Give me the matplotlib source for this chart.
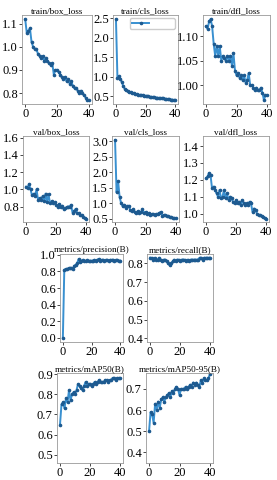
import numpy as np
import matplotlib.pyplot as plt
from matplotlib.ticker import MultipleLocator, FormatStrFormatter

plt.rcParams['font.family'] = ['Liberation Serif', 'DejaVu Serif']

# training curves, one value per epoch (0..40)
train_box_loss = [1.12, 1.06, 1.07, 1.08, 1.02, 1.00, 0.99, 0.99, 0.97, 0.96, 0.95, 0.96, 0.94, 0.95, 0.94,
                  0.93, 0.92, 0.93, 0.88, 0.90, 0.90, 0.89, 0.88, 0.87, 0.86, 0.87, 0.85, 0.86, 0.84, 0.85,
                  0.83, 0.82, 0.82, 0.81, 0.80, 0.81, 0.80, 0.79, 0.78, 0.77, 0.77]
train_cls_loss = [2.48, 0.97, 1.01, 0.95, 0.85, 0.75, 0.68, 0.65, 0.63, 0.61, 0.60, 0.58, 0.57, 0.56, 0.55,
                  0.54, 0.53, 0.53, 0.52, 0.50, 0.51, 0.50, 0.49, 0.48, 0.48, 0.47, 0.47, 0.46, 0.46, 0.45,
                  0.45, 0.44, 0.44, 0.43, 0.43, 0.42, 0.42, 0.41, 0.41, 0.40, 0.40]
train_dfl_loss = [1.12, 1.115, 1.13, 1.135, 1.12, 1.085, 1.06, 1.08, 1.06, 1.08, 1.05, 1.06, 1.055, 1.05,
                  1.06, 1.05, 1.06, 1.04, 1.065, 1.03, 1.02, 1.025, 1.015, 1.02, 1.01, 1.02, 1.005, 1.01,
                  1.025, 1.0, 1.0, 0.995, 0.99, 0.995, 0.99, 0.99, 0.995, 0.985, 0.97, 0.98, 0.98]
val_box_loss = [1.03, 1.02, 1.06, 1.00, 0.93, 0.95, 0.92, 1.00, 0.88, 0.90, 0.88, 0.92, 0.86, 0.95, 0.85,
                0.94, 0.84, 0.86, 0.84, 0.85, 0.82, 0.80, 0.83, 0.79, 0.81, 0.77, 0.78, 0.79, 0.80, 0.80,
                0.82, 0.73, 0.75, 0.77, 0.73, 0.72, 0.70, 0.70, 0.68, 0.67, 0.66]
val_cls_loss = [3.05, 1.35, 1.72, 1.20, 1.00, 0.90, 0.95, 0.85, 0.90, 0.92, 0.78, 0.75, 0.80, 0.72, 0.70,
                0.75, 0.68, 0.72, 0.80, 0.70, 0.72, 0.65, 0.68, 0.62, 0.65, 0.64, 0.63, 0.64, 0.66, 0.68,
                0.72, 0.60, 0.62, 0.62, 0.60, 0.58, 0.55, 0.54, 0.53, 0.52, 0.52]
val_dfl_loss = [1.21, 1.22, 1.24, 1.23, 1.15, 1.16, 1.14, 1.12, 1.10, 1.14, 1.09, 1.10, 1.14, 1.09, 1.12,
                1.08, 1.10, 1.09, 1.07, 1.06, 1.08, 1.06, 1.07, 1.05, 1.08, 1.06, 1.05, 1.06, 1.05, 1.07,
                1.06, 1.01, 1.03, 1.02, 1.00, 0.99, 0.99, 0.985, 0.98, 0.975, 0.97]
precision = [0.0, 0.82, 0.83, 0.83, 0.84, 0.84, 0.84, 0.83, 0.87, 0.88, 0.90, 0.95, 0.91, 0.93, 0.94,
             0.93, 0.93, 0.94, 0.92, 0.93, 0.93, 0.93, 0.94, 0.93, 0.94, 0.95, 0.93, 0.94, 0.94, 0.93,
             0.94, 0.94, 0.93, 0.94, 0.94, 0.94, 0.93, 0.94, 0.94, 0.93, 0.93]
recall = [0.83, 0.83, 0.82, 0.83, 0.82, 0.82, 0.83, 0.82, 0.81, 0.82, 0.82, 0.81, 0.80, 0.79, 0.80,
          0.81, 0.82, 0.81, 0.82, 0.82, 0.81, 0.82, 0.82, 0.82, 0.81, 0.82, 0.81, 0.82, 0.82, 0.82,
          0.82, 0.82, 0.82, 0.83, 0.83, 0.82, 0.83, 0.83, 0.83, 0.83, 0.83]
map50 = [0.65, 0.75, 0.76, 0.73, 0.78, 0.76, 0.82, 0.77, 0.80, 0.81, 0.80, 0.82, 0.85, 0.84, 0.83,
         0.82, 0.84, 0.86, 0.84, 0.85, 0.85, 0.84, 0.85, 0.86, 0.85, 0.86, 0.87, 0.86, 0.86, 0.86,
         0.87, 0.87, 0.86, 0.87, 0.87, 0.88, 0.88, 0.87, 0.88, 0.88, 0.88]
map50_95 = [0.50, 0.59, 0.58, 0.54, 0.63, 0.60, 0.64, 0.61, 0.65, 0.66, 0.64, 0.66, 0.67, 0.68, 0.66,
            0.69, 0.68, 0.70, 0.71, 0.70, 0.67, 0.70, 0.70, 0.70, 0.71, 0.70, 0.71, 0.72, 0.71, 0.73,
            0.72, 0.73, 0.72, 0.71, 0.74, 0.73, 0.75, 0.74, 0.74, 0.75, 0.77]

W, H = 277, 480
fig = plt.figure(figsize=(W / 100, H / 100), dpi=100)

# (title, data, left px, right px, top px, bottom px, ylim, y tick step, tick format)
panels = [
    ('train/box_loss', train_box_loss, 22, 92, 15, 104, None, 0.1, '%.1f'),
    ('train/cls_loss', train_cls_loss, 113, 178, 15, 104, None, 0.5, '%.1f'),
    ('train/dfl_loss', train_dfl_loss, 203, 270, 15, 104, None, 0.05, '%.2f'),
    ('val/box_loss', val_box_loss, 23, 89, 136, 222, (0.62, 1.62), 0.2, '%.1f'),
    ('val/cls_loss', val_cls_loss, 112, 179, 136, 222, None, 0.5, '%.1f'),
    ('val/dfl_loss', val_dfl_loss, 203, 269, 136, 222, (0.95, 1.46), 0.1, '%.1f'),
    ('metrics/precision(B)', precision, 60, 123, 254, 342, (-0.05, 1.01), 0.2, '%.1f'),
    ('metrics/recall(B)', recall, 147, 213, 254, 342, (0.38, 0.85), 0.1, '%.1f'),
    ('metrics/mAP50(B)', map50, 57, 123, 373, 463, (0.46, 0.905), 0.1, '%.1f'),
    ('metrics/mAP50-95(B)', map50_95, 146, 213, 373, 463, (0.35, 0.775), 0.1, '%.1f'),
]

for title, y, l, r, t, b, ylim, step, fmt in panels:
    ax = fig.add_axes([l / W, 1 - b / H, (r - l) / W, (b - t) / H])
    x = np.arange(len(y))
    ax.plot(x, y, color='#3990d0', lw=1.4, marker='.', ms=3.2,
            mfc='#1d5a90', mec='#1d5a90', label='          ')
    ax.set_title(title, fontsize=6.6, pad=1.5)
    ax.set_xticks([0, 20, 40])
    if ylim:
        ax.set_ylim(*ylim)
    ax.yaxis.set_major_locator(MultipleLocator(step))
    ax.yaxis.set_major_formatter(FormatStrFormatter(fmt))
    ax.tick_params(labelsize=9, length=2, width=0.5, pad=1)
    for s in ax.spines.values():
        s.set_color('#999999')
        s.set_linewidth(0.6)
    if title == 'train/cls_loss':
        ax.legend(loc='upper right', fontsize=5, handlelength=2.5, frameon=True,
                  borderpad=0.3, framealpha=1, edgecolor='#cccccc')

fig.savefig('out.png', dpi=100)
